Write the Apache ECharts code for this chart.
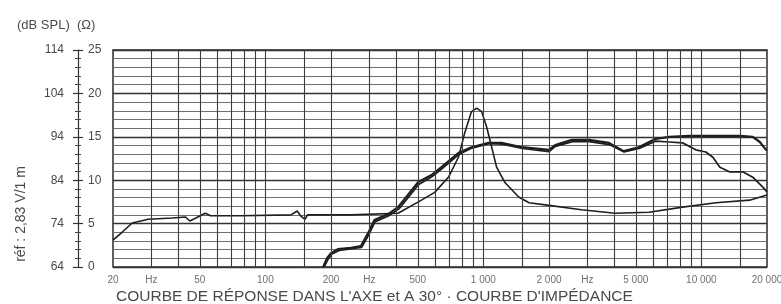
<!DOCTYPE html>
<html>
<head>
<meta charset="utf-8">
<script src="https://cdn.jsdelivr.net/npm/echarts@6/dist/echarts.min.js"></script>
<style>
html,body{margin:0;padding:0;background:#fff;}
#c{width:781px;height:304px;}
</style>
</head>
<body>
<div id="c"></div>
<script>
// ---- data ----
const impFreq = [20, 22, 24.5, 29, 37.5, 43, 45, 48, 53, 56, 77, 131, 140, 145, 152, 156, 247, 406, 520, 598, 694, 770, 820, 882, 932, 982, 1036, 1092, 1150, 1258, 1452, 1620, 2000, 2820, 4020, 5760, 8200, 11660, 16640, 20000];
const impOhm  = [3.1, 4.0, 5.07, 5.5, 5.65, 5.76, 5.3, 5.65, 6.2, 5.9, 5.9, 6.0, 6.45, 5.9, 5.5, 6.0, 6.0, 6.2, 7.7, 8.6, 10.4, 12.7, 15.4, 17.9, 18.3, 17.9, 16.1, 13.8, 11.5, 9.7, 8.06, 7.4, 7.1, 6.6, 6.2, 6.3, 6.9, 7.4, 7.7, 8.3];

const onFreq = [184, 192, 200, 215, 247, 274, 296, 316, 366, 406, 503, 578, 642, 770, 882, 1056, 1213, 1504, 2000, 2134, 2550, 3052, 3770, 4400, 5160, 6140, 7120, 8800, 15000, 17200, 18540, 19800, 20000];
const onDb   = [64, 66.1, 67.2, 68.1, 68.4, 68.8, 71.8, 74.8, 76.2, 77.8, 83.6, 85.2, 87.0, 90.3, 91.6, 92.6, 92.6, 91.6, 91.0, 92.1, 93.3, 93.3, 92.6, 90.7, 91.6, 93.5, 94.0, 94.2, 94.2, 94.0, 92.8, 91.0, 91.0];

const offFreq = [186, 194, 202, 218, 250, 276, 298, 318, 368, 410, 505, 580, 645, 775, 885, 1060, 1220, 1510, 2000, 2140, 2560, 3060, 3780, 4420, 5180, 6160, 7120, 8200, 9420, 10480, 11290, 12160, 13520, 15550, 17200, 19140, 20000];
const offDb   = [64, 65.8, 67, 67.8, 68.2, 68.5, 71.4, 74.4, 75.8, 77.4, 83.0, 84.8, 86.6, 90.0, 91.4, 92.4, 92.3, 91.3, 90.6, 91.8, 92.9, 92.9, 92.2, 90.5, 91.3, 93.0, 92.8, 92.6, 91.0, 90.5, 89.3, 87.0, 85.9, 85.9, 84.7, 82.4, 81.3];

const gridFreqs = [30,40,50,60,70,80,90,100,150,200,300,400,500,600,700,800,900,1000,1500,2000,3000,4000,5000,6000,7000,8000,9000,10000,15000];
const xLabelFreqs = [20,30,50,100,200,300,500,1000,2000,3000,5000,10000,20000];
const xLabelTexts = ['20','Hz','50','100','200','Hz','500','1 000','2 000','Hz','5 000','10 000','20 000'];

const dbMin = 64, dbMax = 114, dbStep = 10;
const ohmMin = 0, ohmMax = 25, ohmStep = 5;

const titleText = '(dB SPL)  (Ω)';
const sideText = 'réf : 2,83 V/1 m';
const captionText = "COURBE DE RÉPONSE DANS L'AXE et A 30° · COURBE D'IMPÉDANCE";

// ---- chart ----
const FONT = 'Liberation Sans, Arial, sans-serif';
const TXT = '#4a4a4a';
const LINE = '#1e1e1e';

const pairs = (a, b) => a.map((v, i) => [v, b[i]]);

const chart = echarts.init(document.getElementById('c'), null, {renderer: 'canvas'});
chart.setOption({
  backgroundColor: '#fff',
  animation: false,
  title: {
    text: titleText, left: 12, top: 14,
    textStyle: {fontSize: 13, fontWeight: 'normal', color: TXT, fontFamily: FONT}
  },
  graphic: [
    {type: 'text', x: 21, y: 214, rotation: Math.PI / 2,
     style: {text: sideText, fontSize: 14, fill: TXT, fontFamily: FONT, align: 'center', verticalAlign: 'middle'}},
    {type: 'text', x: 116, y: 297,
     style: {text: captionText, fontSize: 15.5, fill: TXT, fontFamily: FONT, align: 'left', verticalAlign: 'middle'}}
  ],
  grid: {left: 113, right: 14, top: 50, bottom: 37, show: true, borderColor: '#2a2a2a', borderWidth: 1.5, backgroundColor: 'transparent'},
  xAxis: {
    type: 'log', logBase: 10, min: 20, max: 20000,
    axisLine: {show: false}, axisTick: {show: false}, axisLabel: {show: false},
    splitLine: {show: false}
  },
  yAxis: [
    {
      type: 'value', min: dbMin, max: dbMax, interval: dbStep, position: 'left', offset: 35,
      axisLine: {show: true, lineStyle: {color: '#333', width: 1.2}},
      axisTick: {show: true, inside: false, length: 5, lineStyle: {color: '#333', width: 1.2}},
      minorTick: {show: true, splitNumber: 5, length: 3, lineStyle: {color: '#444'}},
      axisLabel: {color: TXT, fontSize: 12, margin: 14, fontFamily: FONT},
      splitLine: {show: false}
    },
    {
      type: 'value', min: ohmMin, max: ohmMax, interval: ohmStep, position: 'left', offset: 35,
      axisLine: {show: false},
      axisTick: {show: true, inside: true, length: 5, lineStyle: {color: '#333', width: 1.2}},
      minorTick: {show: true, splitNumber: 5, length: 3, lineStyle: {color: '#444'}},
      axisLabel: {inside: true, color: TXT, fontSize: 12, margin: 10, fontFamily: FONT},
      splitLine: {show: true, lineStyle: {color: '#333', width: 1.3}},
      minorSplitLine: {show: true, lineStyle: {color: '#707070', width: 1}}
    }
  ],
  series: [
    {
      type: 'line', name: 'grid', data: [], silent: true,
      markLine: {
        silent: true, symbol: 'none', animation: false,
        label: {show: false},
        lineStyle: {color: '#3c3c3c', width: 1.1, type: 'solid'},
        data: gridFreqs.map(f => ({xAxis: f}))
      }
    },
    {
      type: 'scatter', name: 'xlabels', yAxisIndex: 0, silent: true, clip: false,
      symbolSize: 1, itemStyle: {color: 'transparent'},
      data: xLabelFreqs.map((f, i) => ({value: [f, dbMin], name: xLabelTexts[i]})),
      label: {show: true, position: 'bottom', distance: 8, formatter: p => p.name,
              color: TXT, fontSize: 10, fontFamily: FONT}
    },
    {
      type: 'line', name: 'Impédance', yAxisIndex: 1, data: pairs(impFreq, impOhm),
      showSymbol: false, smooth: false, clip: true,
      lineStyle: {color: LINE, width: 1.6}
    },
    {
      type: 'line', name: '30°', yAxisIndex: 0, data: pairs(offFreq, offDb),
      showSymbol: false, smooth: false, clip: true,
      lineStyle: {color: LINE, width: 1.7}
    },
    {
      type: 'line', name: 'Axe', yAxisIndex: 0, data: pairs(onFreq, onDb),
      showSymbol: false, smooth: false, clip: true,
      lineStyle: {color: LINE, width: 2.2}
    }
  ]
});
</script>
</body>
</html>
